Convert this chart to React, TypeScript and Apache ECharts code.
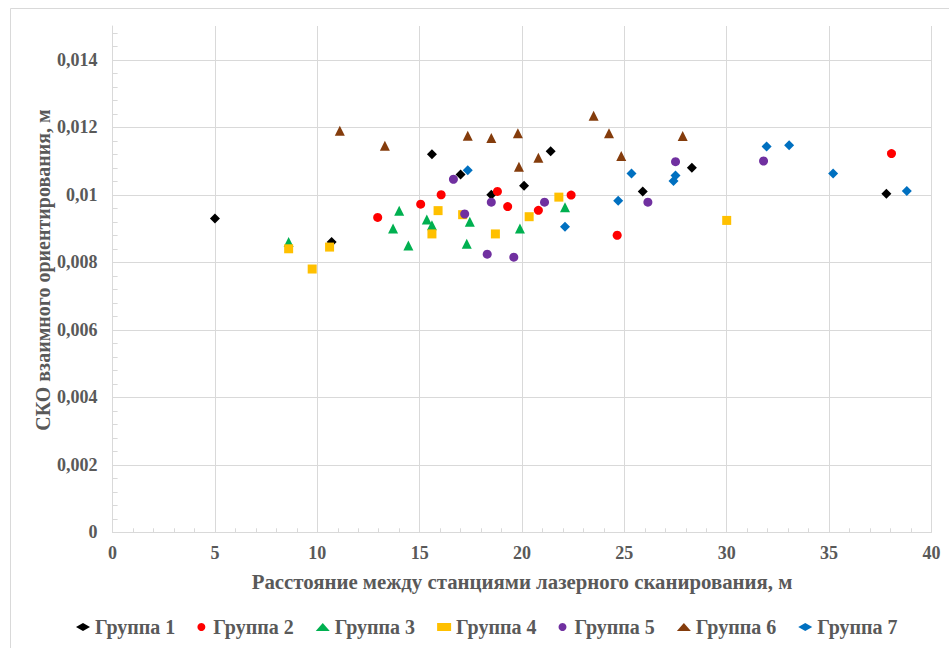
import React, { useEffect, useRef } from "react";
import * as echarts from "echarts";

const seriesNames = ["Группа 1", "Группа 2", "Группа 3", "Группа 4", "Группа 5", "Группа 6", "Группа 7"];
const seriesColors = ["#000000", "#FF0000", "#00B050", "#FFC000", "#7030A0", "#843C0C", "#0070C0"];
const seriesSymbols = ["diamond", "circle", "triangle", "rect", "circle", "triangle", "diamond"];
const seriesSymbolSizes = [10, 9, 10, 9, 9, 10, 10];

const group1 = [[5.0, 0.0093], [10.7, 0.0086], [15.6, 0.0112], [17.0, 0.0106], [18.5, 0.0100], [20.1, 0.01027], [21.4, 0.01129], [25.9, 0.0101], [28.3, 0.0108], [37.8, 0.01003]];
const group2 = [[12.95, 0.00933], [15.05, 0.00972], [16.05, 0.0100], [18.8, 0.0101], [19.3, 0.00965], [20.8, 0.00954], [22.4, 0.00999], [24.65, 0.0088], [38.05, 0.01122]];
const group3 = [[8.6, 0.0086], [13.7, 0.0090], [14.0, 0.00953], [14.45, 0.0085], [15.35, 0.00927], [15.6, 0.0091], [17.3, 0.00855], [17.45, 0.0092], [19.9, 0.0090], [22.1, 0.00963]];
const group4 = [[8.6, 0.0084], [9.75, 0.0078], [10.6, 0.00845], [15.6, 0.00884], [15.9, 0.00953], [17.1, 0.00941], [18.7, 0.00884], [20.35, 0.00935], [21.8, 0.00993], [30.0, 0.00924]];
const group5 = [[16.65, 0.01046], [17.2, 0.00943], [18.3, 0.00824], [18.5, 0.00978], [19.6, 0.00815], [21.1, 0.00978], [26.15, 0.00978], [27.5, 0.01098], [31.8, 0.0110]];
const group6 = [[11.1, 0.0119], [13.3, 0.01145], [17.35, 0.01175], [18.5, 0.01168], [19.8, 0.01182], [19.85, 0.01083], [20.8, 0.0111], [23.5, 0.01234], [24.25, 0.01182], [24.85, 0.01115], [27.85, 0.01174]];
const group7 = [[17.35, 0.01073], [22.1, 0.00905], [24.7, 0.00982], [25.35, 0.01063], [27.4, 0.01041], [27.5, 0.01057], [31.95, 0.01143], [33.05, 0.01147], [35.2, 0.01063], [38.8, 0.01011]];
const groups = [group1, group2, group3, group4, group5, group6, group7];

const xMin = 0;
const xMax = 40;
const xStep = 5;
const yMin = 0;
const yMax = 0.015;
const yStep = 0.002;
const yMinorStep = 0.0004;

const xTitle = "Расстояние между станциями лазерного сканирования, м";
const yTitle = "СКО взаимного ориентирования, м";

const FONT = "Liberation Serif, Times New Roman, serif";
const TEXT = "#595959";
const GRID = "#d9d9d9";

function fmtY(v: number): string {
  const k = Math.round(v / yStep);
  if (Math.abs(k * yStep - v) > 1e-9) return "";
  if (k === 0) return "0";
  return String(+(k * yStep).toFixed(3)).replace(".", ",");
}

export default function App() {
  const ref = useRef<HTMLDivElement>(null);
  useEffect(() => {
    if (!ref.current) return;
    const chart = echarts.init(ref.current, undefined, { renderer: "svg" });
    const minorVals: number[] = [];
    for (let i = 1; i * yMinorStep < yMax - 1e-9; i++) minorVals.push(+(i * yMinorStep).toFixed(4));
    chart.setOption({
      animation: false,
      backgroundColor: "#ffffff",
      textStyle: { fontFamily: FONT },
      graphic: [
        {
          type: "rect",
          shape: { x: 10.5, y: 8.5, width: 1000, height: 1000 },
          style: { fill: "none", stroke: GRID, lineWidth: 1 },
          silent: true,
        },
        {
          type: "text",
          x: 43,
          y: 270,
          rotation: Math.PI / 2,
          style: {
            text: yTitle,
            fill: TEXT,
            fontFamily: FONT,
            fontWeight: "bold",
            fontSize: 20,
            align: "center",
            verticalAlign: "middle",
          },
        },
      ],
      grid: { left: 112.6, right: 17.6, top: 26, bottom: 115.7, containLabel: false },
      legend: {
        data: seriesNames,
        left: 71,
        top: 612,
        itemWidth: 14,
        itemHeight: 8,
        itemGap: 22,
        textStyle: { fontFamily: FONT, fontWeight: "bold", fontSize: 20, color: TEXT },
      },
      xAxis: {
        type: "value",
        min: xMin,
        max: xMax,
        interval: xStep,
        name: xTitle,
        nameLocation: "middle",
        nameGap: 39,
        nameTextStyle: { fontFamily: FONT, fontWeight: "bold", fontSize: 20.8, color: TEXT },
        axisLine: { show: true, lineStyle: { color: GRID } },
        axisTick: { show: true, inside: true, length: 4, lineStyle: { color: GRID } },
        minorTick: { show: true, splitNumber: 5, length: 4, lineStyle: { color: GRID } },
        axisLabel: { margin: 12, fontFamily: FONT, fontWeight: "bold", fontSize: 18, color: TEXT },
        splitLine: { show: true, lineStyle: { color: GRID, width: 1 } },
      },
      yAxis: [
        {
          type: "value",
          min: yMin,
          max: yMax,
          interval: yStep,
          axisLine: { show: true, lineStyle: { color: GRID } },
          axisTick: { show: false },
          axisLabel: { margin: 15, fontFamily: FONT, fontWeight: "bold", fontSize: 18, color: TEXT, formatter: fmtY },
          splitLine: { show: true, showMaxLine: false, lineStyle: { color: GRID, width: 1 } },
        },
        {
          type: "value",
          min: yMin,
          max: yMax,
          interval: yMinorStep,
          position: "left",
          axisLine: { show: false },
          axisTick: { show: true, inside: true, length: 5, lineStyle: { color: GRID }, customValues: minorVals },
          axisLabel: { show: false },
          splitLine: { show: false },
        },
      ],
      series: groups.map((g, i) => ({
        name: seriesNames[i],
        type: "scatter",
        data: g,
        symbol: seriesSymbols[i],
        symbolSize: seriesSymbolSizes[i],
        itemStyle: { color: seriesColors[i], opacity: 1 },
        emphasis: { disabled: true },
      })),
    });
    return () => chart.dispose();
  }, []);
  return (
    <div
      ref={ref}
      style={{ position: "fixed", left: 0, top: 0, width: 949, height: 648, background: "#fff" }}
    />
  );
}
